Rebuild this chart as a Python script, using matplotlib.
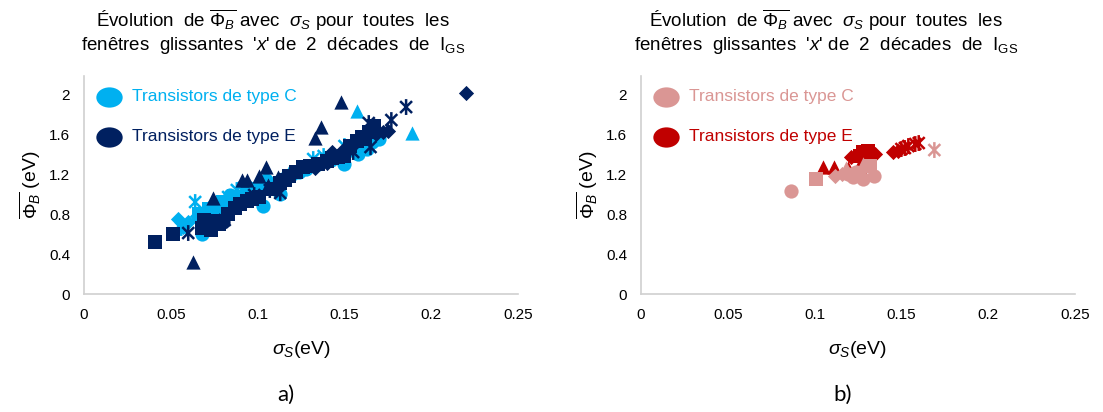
import matplotlib.pyplot as plt
from matplotlib.path import Path
from matplotlib.transforms import Affine2D

plt.rcParams['font.family'] = ['Liberation Sans', 'DejaVu Sans']
plt.rcParams['mathtext.fontset'] = 'custom'
plt.rcParams['mathtext.rm'] = 'Liberation Sans'
plt.rcParams['mathtext.it'] = 'Liberation Sans:italic'

# --- a) toutes les fenêtres ---
# type C
a_c_circle_x = [0.068, 0.070, 0.072, 0.075, 0.078, 0.082, 0.086, 0.090, 0.095, 0.100, 0.103, 0.108, 0.113,
                0.120, 0.128, 0.135, 0.142, 0.150, 0.158, 0.163, 0.170, 0.074, 0.084, 0.093, 0.105,
                0.116, 0.124, 0.146, 0.154, 0.166]
a_c_circle_y = [0.60, 0.66, 0.72, 0.80, 0.86, 0.90, 0.95, 0.98, 1.02, 1.07, 0.88, 1.10, 1.00,
                1.20, 1.25, 1.30, 1.34, 1.30, 1.40, 1.45, 1.55, 0.88, 0.99, 1.08, 1.14,
                1.16, 1.22, 1.38, 1.44, 1.52]
a_c_square_x = [0.066, 0.072, 0.080, 0.097]
a_c_square_y = [0.80, 0.85, 0.92, 1.05]
a_c_diamond_x = [0.054, 0.057, 0.060, 0.065]
a_c_diamond_y = [0.75, 0.67, 0.72, 0.78]
a_c_triangle_x = [0.157, 0.189, 0.118, 0.100]
a_c_triangle_y = [1.83, 1.61, 1.22, 1.12]
a_c_star_x = [0.064, 0.056, 0.083, 0.088, 0.092, 0.132, 0.138, 0.150, 0.165]
a_c_star_y = [0.92, 0.66, 0.97, 1.04, 1.06, 1.35, 1.38, 1.48, 1.58]
# type E
a_e_circle_x = [0.072, 0.080]
a_e_circle_y = [0.66, 0.72]
a_e_square_x = [0.041, 0.051, 0.068, 0.070, 0.072, 0.075, 0.078, 0.087, 0.090, 0.094, 0.101, 0.108, 0.113,
                0.118, 0.122, 0.126, 0.130, 0.140, 0.146, 0.150, 0.153, 0.157, 0.160, 0.164, 0.167,
                0.069, 0.073, 0.083, 0.097, 0.116, 0.135, 0.143, 0.162]
a_e_square_y = [0.52, 0.60, 0.66, 0.70, 0.68, 0.73, 0.70, 0.86, 0.90, 0.93, 0.97, 1.05, 1.11,
                1.18, 1.22, 1.27, 1.28, 1.33, 1.37, 1.38, 1.48, 1.53, 1.57, 1.62, 1.68,
                0.74, 0.64, 0.80, 0.95, 1.14, 1.30, 1.36, 1.55]
a_e_diamond_x = [0.220, 0.133, 0.140, 0.143, 0.150, 0.172, 0.175, 0.155, 0.168]
a_e_diamond_y = [2.01, 1.26, 1.31, 1.42, 1.45, 1.62, 1.63, 1.50, 1.60]
a_e_triangle_x = [0.148, 0.1365, 0.133, 0.105, 0.091, 0.094, 0.101, 0.112, 0.106, 0.0745, 0.0626]
a_e_triangle_y = [1.92, 1.67, 1.56, 1.27, 1.14, 1.14, 1.18, 1.17, 1.09, 0.96, 0.32]
a_e_star_x = [0.1855, 0.177, 0.060, 0.078, 0.081, 0.098, 0.107, 0.113, 0.155, 0.165, 0.164]
a_e_star_y = [1.87, 1.74, 0.61, 0.71, 0.74, 0.99, 1.04, 1.01, 1.42, 1.47, 1.71]

# --- b) ---
b_c_circle_x = [0.0864, 0.1223, 0.1277, 0.1342, 0.124, 0.119]
b_c_circle_y = [1.03, 1.17, 1.15, 1.18, 1.22, 1.20]
b_c_square_x = [0.1006, 0.132]
b_c_square_y = [1.15, 1.28]
b_c_diamond_x = [0.1118, 0.116]
b_c_diamond_y = [1.18, 1.20]
b_c_triangle_x = [0.118, 0.128]
b_c_triangle_y = [1.26, 1.30]
b_c_star_x = [0.169]
b_c_star_y = [1.44]
b_e_triangle_x = [0.105, 0.111, 0.119, 0.126, 0.127, 0.129]
b_e_triangle_y = [1.27, 1.27, 1.26, 1.27, 1.32, 1.35]
b_e_diamond_x = [0.121, 0.145, 0.148, 0.133, 0.135]
b_e_diamond_y = [1.37, 1.42, 1.43, 1.42, 1.40]
b_e_square_x = [0.126, 0.128, 0.130, 0.131]
b_e_square_y = [1.38, 1.42, 1.40, 1.43]
b_e_star_x = [0.150, 0.154, 0.158, 0.160, 0.152]
b_e_star_y = [1.45, 1.48, 1.50, 1.51, 1.46]

x_ticks = [0, 0.05, 0.1, 0.15, 0.2, 0.25]
y_ticks = [0, 0.4, 0.8, 1.2, 1.6, 2]
legend_labels = ['Transistors de type C', 'Transistors de type E']

# asterisk marker: vertical bar + X
star = Path([(0, -1), (0, 1), (-0.75, -0.75), (0.75, 0.75), (-0.75, 0.75), (0.75, -0.75)],
            [Path.MOVETO, Path.LINETO] * 3)
ellipse = Path.unit_circle().transformed(Affine2D().scale(1.3, 1.0))


def draw_group(ax, series, color):
    for marker, xs, ys in series:
        if marker == 'star':
            ax.scatter(xs, ys, marker=star, s=130, facecolors='none', edgecolors=color, linewidths=1.8, zorder=3)
        else:
            size = {'o': 105, 's': 95, '^': 105, 'D': 60}[marker]
            ax.scatter(xs, ys, marker=marker, s=size, color=color, linewidths=0, zorder=3)


def setup(ax, colors):
    ax.set_xlim(0, 0.25)
    ax.set_ylim(0, 2.18)
    ax.set_xticks(x_ticks)
    ax.set_xticklabels(['0', '0.05', '0.1', '0.15', '0.2', '0.25'])
    ax.set_yticks(y_ticks)
    ax.set_yticklabels(['0', '0.4', '0.8', '1.2', '1.6', '2'])
    ax.tick_params(length=0, labelsize=11, pad=10, colors='black')
    for side in ['top', 'right']:
        ax.spines[side].set_visible(False)
    for side in ['left', 'bottom']:
        ax.spines[side].set_color('#d0d0d0')
        ax.spines[side].set_linewidth(1.2)
    for i, (lab, col) in enumerate(zip(legend_labels, colors)):
        yy = 0.904 - i * 0.183
        ax.scatter([0.058], [yy], marker=ellipse, s=360, color=col, transform=ax.transAxes,
                   clip_on=False, linewidths=0, zorder=4)
        ax.text(0.11, yy, lab, color=col, fontsize=12.5, va='center', ha='left', transform=ax.transAxes)


fig = plt.figure(figsize=(11.03, 4.12), dpi=100)
ax1 = fig.add_axes([0.0762, 0.2864, 0.3935, 0.529])
ax2 = fig.add_axes([0.5811, 0.2864, 0.3935, 0.529])

light_blue, navy = '#00b0f0', '#002060'
pink, dark_red = '#da9694', '#c00000'

draw_group(ax1, [('o', a_c_circle_x, a_c_circle_y), ('s', a_c_square_x, a_c_square_y),
                 ('D', a_c_diamond_x, a_c_diamond_y), ('^', a_c_triangle_x, a_c_triangle_y),
                 ('star', a_c_star_x, a_c_star_y)], light_blue)
draw_group(ax1, [('o', a_e_circle_x, a_e_circle_y), ('s', a_e_square_x, a_e_square_y),
                 ('D', a_e_diamond_x, a_e_diamond_y), ('^', a_e_triangle_x, a_e_triangle_y),
                 ('star', a_e_star_x, a_e_star_y)], navy)
draw_group(ax2, [('^', b_e_triangle_x, b_e_triangle_y), ('s', b_e_square_x, b_e_square_y),
                 ('D', b_e_diamond_x, b_e_diamond_y), ('star', b_e_star_x, b_e_star_y)], dark_red)
draw_group(ax2, [('o', b_c_circle_x, b_c_circle_y), ('s', b_c_square_x, b_c_square_y),
                 ('D', b_c_diamond_x, b_c_diamond_y), ('^', b_c_triangle_x, b_c_triangle_y),
                 ('star', b_c_star_x, b_c_star_y)], pink)

setup(ax1, [light_blue, navy])
setup(ax2, [pink, dark_red])

for cx, ax, cap in [(273, ax1, 'a)'), (826, ax2, 'b)')]:
    fig.text(cx / 1103, 1 - 27 / 412,
             r"Évolution  de $\overline{\Phi_B}$ avec  $\sigma_S$ pour  toutes  les",
             ha='center', va='baseline', fontsize=13.5)
    fig.text(cx / 1103, 1 - 50 / 412,
             r"fenêtres  glissantes  '$x$' de  2  décades  de  I$_{\mathrm{GS}}$",
             ha='center', va='baseline', fontsize=13.5)
    pos = ax.get_position()
    fig.text(pos.x0 - 54 / 1103, 1 - 185 / 412, r"$\overline{\Phi_B}$ (eV)", rotation=90,
             ha='center', va='center', fontsize=14)
    fig.text(pos.x0 + pos.width / 2, 1 - 349 / 412, r"$\sigma_S$(eV)", ha='center', va='center', fontsize=14)
    fig.text(pos.x0 + pos.width / 2 - 15 / 1103, 1 - 395 / 412, cap, ha='center', va='center',
             fontsize=16, family=['Lato', 'DejaVu Sans'])

fig.savefig('out.png', dpi=100)
